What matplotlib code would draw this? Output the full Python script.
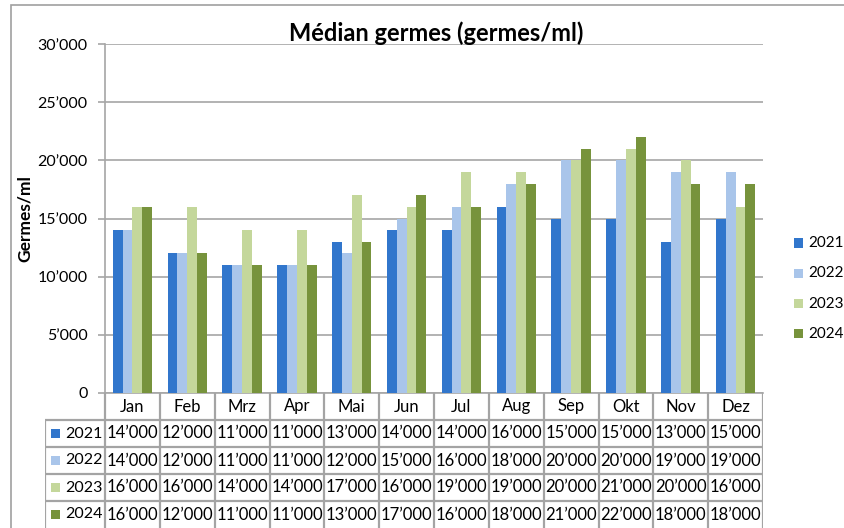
import matplotlib.pyplot as plt
from matplotlib.patches import Rectangle

# Données
mois = ['Jan', 'Feb', 'Mrz', 'Apr', 'Mai', 'Jun', 'Jul', 'Aug', 'Sep', 'Okt', 'Nov', 'Dez']
annees = ['2021', '2022', '2023', '2024']
v2021 = [14000, 12000, 11000, 11000, 13000, 14000, 14000, 16000, 15000, 15000, 13000, 15000]
v2022 = [14000, 12000, 11000, 11000, 12000, 15000, 16000, 18000, 20000, 20000, 19000, 19000]
v2023 = [16000, 16000, 14000, 14000, 17000, 16000, 19000, 19000, 20000, 21000, 20000, 16000]
v2024 = [16000, 12000, 11000, 11000, 13000, 17000, 16000, 18000, 21000, 22000, 18000, 18000]
series = [v2021, v2022, v2023, v2024]
couleurs = ['#3176CC', '#A9C5EA', '#C4D79B', '#77933C']

plt.rcParams['font.family'] = ['Lato', 'DejaVu Sans']

def fmt(v):
    return f"{v:,}".replace(',', '\u2019')

W, H = 845, 528
fig = plt.figure(figsize=(W / 100, H / 100), dpi=100)

def px(x0, y0, x1, y1):
    # rectangle en pixels (origine en haut à gauche) -> coordonnées figure
    return [x0 / W, 1 - y1 / H, (x1 - x0) / W, (y1 - y0) / H]

grid_c = '#A6A6A6'

# Cadre du graphique
fig.patches.append(Rectangle((11 / W, -0.01), 1.1, 1 - 5 / H + 0.01, transform=fig.transFigure,
                             fill=False, edgecolor='#A0A0A0', lw=1.2))

# Graphique à barres
ax = fig.add_axes(px(105, 44, 763, 393))
n = len(annees)
bw = 0.18
for i, (vals, c) in enumerate(zip(series, couleurs)):
    xs = [k + (i - (n - 1) / 2) * bw for k in range(len(mois))]
    ax.bar(xs, vals, width=bw, color=c, label=annees[i], zorder=3)

ax.set_xlim(-0.5, len(mois) - 0.5)
ax.set_ylim(0, 30000)
ax.set_yticks(range(0, 30001, 5000))
ax.set_yticklabels([fmt(v) for v in range(0, 30001, 5000)], fontsize=11.5)
ax.set_xticks([])
ax.yaxis.grid(True, color=grid_c, lw=1.2, zorder=0)
for s in ['top', 'right']:
    ax.spines[s].set_visible(False)
for s in ['left', 'bottom']:
    ax.spines[s].set_color(grid_c)
    ax.spines[s].set_linewidth(1.2)
ax.tick_params(axis='y', length=5, color=grid_c, width=1.2, pad=7.5)
ax.set_ylabel('Germes/ml', fontsize=12.5, fontweight='bold')
ax.yaxis.set_label_coords(-72 / 658, 0.5)

fig.text(436 / W, 1 - 33 / H, 'Médian germes (germes/ml)', ha='center', va='center',
         fontsize=17, fontweight='bold')

# Légende
for i, (an, c) in enumerate(zip(annees, couleurs)):
    y = 1 - (243 + i * 30.3) / H
    fig.patches.append(Rectangle((794 / W, y - 4.5 / H), 9 / W, 9 / H, transform=fig.transFigure,
                                 facecolor=c, edgecolor='none'))
    fig.text(808 / W, y, an, ha='left', va='center', fontsize=11)

# Tableau de données
lab_w = 60 / ((763 - 105) / 12)
tab = fig.add_axes(px(45, 393, 763, 528))
tab.set_xlim(-0.5 - lab_w, len(mois) - 0.5)
tab.set_ylim(5, 0)
tab.axis('off')
lc = '#A4A4A4'
lw = 1.6
# lignes horizontales
for r in range(1, 5):
    tab.hlines(r, -0.5 - lab_w, len(mois) - 0.5, color=lc, lw=lw)
# lignes verticales
tab.vlines(-0.5 - lab_w, 1, 5, color=lc, lw=lw)
for k in range(len(mois) + 1):
    tab.vlines(k - 0.5, 0, 5, color=lc, lw=lw)
for k, m in enumerate(mois):
    tab.text(k, 0.5, m, ha='center', va='center', fontsize=12)
for i, (an, vals, c) in enumerate(zip(annees, series, couleurs)):
    r = i + 1.5
    tab.add_patch(Rectangle((-0.5 - lab_w + 0.11, r - 0.17), 0.17, 0.34, facecolor=c, edgecolor='none'))
    tab.text(-0.5 - lab_w + 0.36, r, an, ha='left', va='center', fontsize=11.5)
    for k, v in enumerate(vals):
        tab.text(k, r, fmt(v), ha='center', va='center', fontsize=12)

fig.savefig('out.png', dpi=100)
